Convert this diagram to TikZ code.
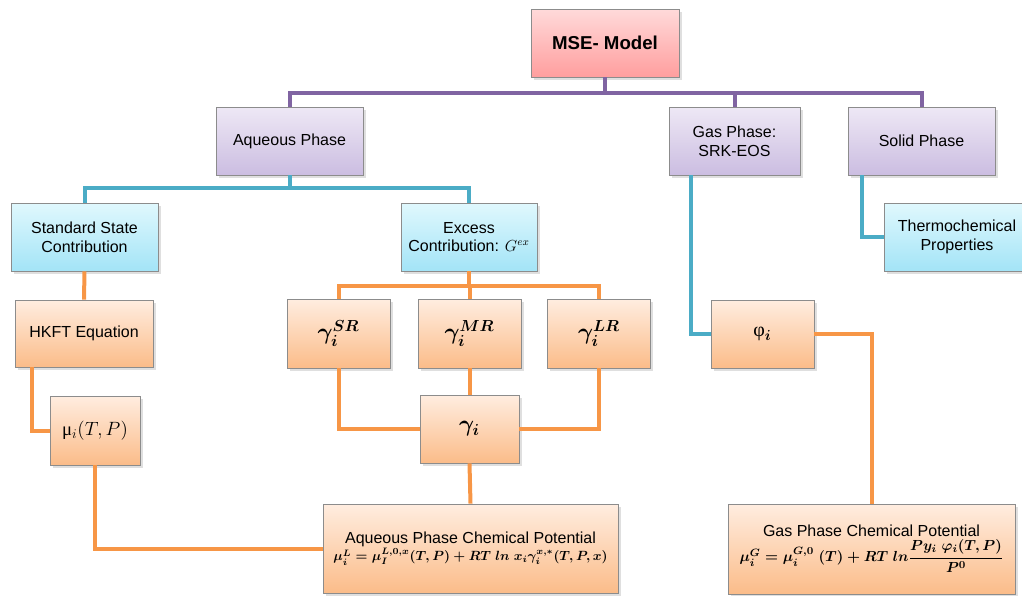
\documentclass[tikz,border=0pt]{standalone}
\usepackage{amsmath,bm}
\usepackage{fontspec}
\setmainfont{Liberation Sans}
\newfontfamily\serifu{Liberation Serif}
\usetikzlibrary{shadows}
\definecolor{pline}{HTML}{8064A2}
\definecolor{bline}{HTML}{4BACC6}
\definecolor{oline}{HTML}{F79646}
\definecolor{pinkT}{HTML}{FFDADA}
\definecolor{pinkB}{HTML}{FF9E9E}
\definecolor{purpT}{HTML}{EEE8F5}
\definecolor{purpB}{HTML}{CBBDE1}
\definecolor{blueT}{HTML}{E0F8FD}
\definecolor{blueB}{HTML}{A3E4F7}
\definecolor{orT}{HTML}{FFEDE0}
\definecolor{orB}{HTML}{FBBC89}
\tikzset{
  basebox/.style={draw=black!45, line width=0.6pt, align=center, inner sep=2pt,
    drop shadow={opacity=0.25, shadow xshift=2pt, shadow yshift=-2pt}, font=\fontsize{12}{14}\selectfont},
  pinkbox/.style={basebox, top color=pinkT, bottom color=pinkB},
  purpbox/.style={basebox, top color=purpT, bottom color=purpB},
  bluebox/.style={basebox, top color=blueT, bottom color=blueB},
  orbox/.style={basebox, top color=orT, bottom color=orB},
  gbox/.style={orbox, minimum width=77.25pt, minimum height=51.75pt, font=\fontsize{17}{20}\selectfont\boldmath},
  pconn/.style={draw=pline, line width=3pt},
  bconn/.style={draw=bline, line width=3pt},
  oconn/.style={draw=oline, line width=3pt},
}
\begin{document}
\begin{tikzpicture}[x=0.75pt,y=-0.75pt]
\useasboundingbox (0,0) rectangle (1022,596);
% nodes
\node[pinkbox, minimum width=111pt, minimum height=51pt, font=\bfseries\fontsize{14}{16}\selectfont] (mse) at (605,43) {MSE- Model};
\node[purpbox, minimum width=110.25pt, minimum height=51pt] (aq) at (289.5,141) {Aqueous Phase};
\node[purpbox, minimum width=98.25pt, minimum height=51pt] (gas) at (734.5,141) {Gas Phase:\\SRK-EOS};
\node[purpbox, minimum width=110.25pt, minimum height=51pt] (solid) at (921.5,141) {Solid Phase};
\node[bluebox, minimum width=110.25pt, minimum height=51pt] (std) at (84.5,237) {Standard State\\Contribution};
\node[bluebox, minimum width=102pt, minimum height=51pt] (exc) at (469,237) {Excess\\Contribution: $G^{ex}$};
\node[bluebox, minimum width=109.5pt, minimum height=51pt] (thermo) at (957,237) {Thermochemical\\Properties};
\node[orbox, minimum width=103.5pt, minimum height=50.25pt] (hkft) at (84,333.5) {HKFT Equation};
\node[gbox] (sr) at (338.5,333.5) {$\gamma_i^{SR}$};
\node[gbox] (mr) at (469.5,333.5) {$\gamma_i^{MR}$};
\node[gbox] (lr) at (599,333.5) {$\gamma_i^{LR}$};
\node[orbox, minimum width=77.25pt, minimum height=51pt, font=\fontsize{15}{17}\selectfont] (phi) at (762.5,334) {{\serifu φ}$_{\boldsymbol{i}}$};
\node[orbox, minimum width=67.5pt, minimum height=51.75pt, font=\fontsize{14}{16}\selectfont] (mu) at (95,430.5) {{\serifu μ}$_i(T,P)$};
\node[gbox, minimum width=74.25pt, minimum height=51pt] (gi) at (469.5,429) {$\gamma_i$};
\node[orbox, minimum width=221.25pt, minimum height=66.75pt] (aqc) at (470.5,548.5)
  {Aqueous Phase Chemical Potential\\[-1pt]{\fontsize{10.2}{13}\selectfont\boldmath$\mu_i^{L}=\mu_I^{L,0,x}(T,P)+RT\;ln\;x_i\gamma_i^{x,*}(T,P,x)$}};
\node[orbox, minimum width=215.25pt, minimum height=67.5pt] (gasc) at (871.5,549)
  {Gas Phase Chemical Potential\\[1pt]{\fontsize{11.2}{13}\selectfont\boldmath$\mu_i^{G}=\mu_i^{G,0}\;(T)+RT\;ln\dfrac{P y_i\;\varphi_i(T,P)}{P^0}$}};
% purple connectors
\path (mse.south) -- ++(0,16) coordinate (pb);
\draw[pconn] (mse.south) -- (pb);
\draw[pconn] (aq.north) |- (pb) -| (solid.north);
\draw[pconn] (gas.north) -- (gas.north |- pb);
% blue connectors
\path (aq.south) -- ++(0,13) coordinate (bb);
\draw[bconn] (aq.south) -- (bb);
\draw[bconn] (std.north) |- (bb) -| (exc.north);
\draw[bconn] ([xshift=16.5pt]gas.south west) |- (phi.west);
\draw[bconn] ([xshift=10.5pt]solid.south west) |- (thermo.west);
% orange connectors
\draw[oconn] (std.south) -- (hkft.north);
\draw[oconn] ([xshift=12.75pt]hkft.south west) |- (mu.west);
\draw[oconn] (mu.south) |- (aqc.west);
\path (exc.south) -- ++(0,15) coordinate (ob);
\draw[oconn] (exc.south) -- (ob);
\draw[oconn] (sr.north) |- (ob) -| (lr.north);
\draw[oconn] (mr.north) -- (mr.north |- ob);
\draw[oconn] (sr.south) |- (gi.west);
\draw[oconn] (lr.south) |- (gi.east);
\draw[oconn] (mr.south) -- (gi.north);
\draw[oconn] (gi.south) -- (aqc.north);
\draw[oconn] (phi.east) -| (gasc.north);
\end{tikzpicture}
\end{document}
